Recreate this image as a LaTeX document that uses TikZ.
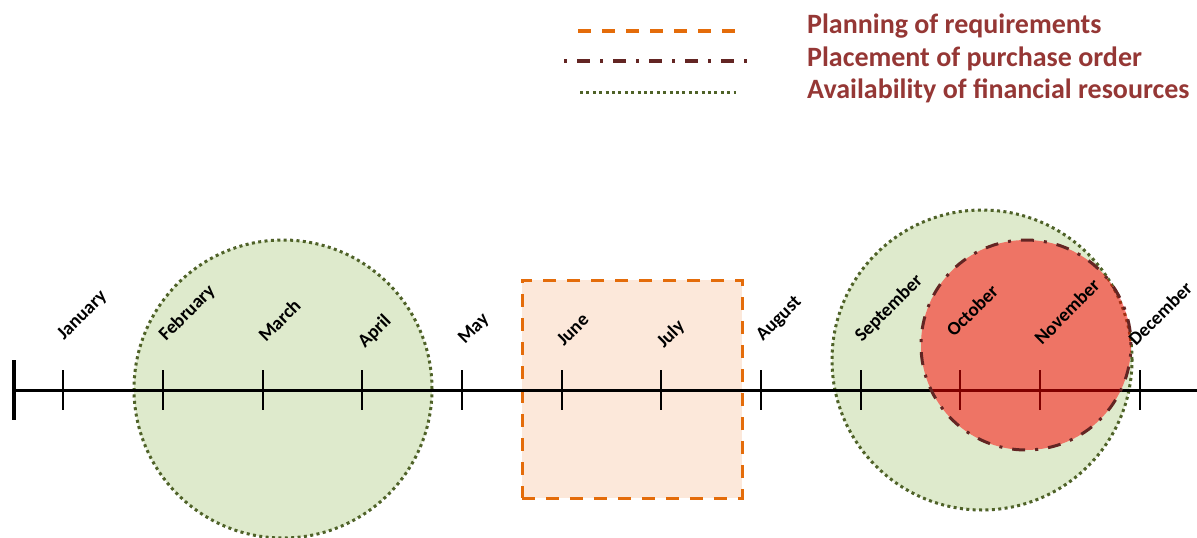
\documentclass[tikz,border=0pt]{standalone}
\usepackage{fontspec}
\setmainfont{Carlito}
\definecolor{legtext}{RGB}{149,55,53}
\definecolor{planorange}{RGB}{228,108,10}
\definecolor{planfill}{RGB}{252,232,218}
\definecolor{availgreen}{RGB}{79,98,40}
\definecolor{availfill}{RGB}{222,234,204}
\definecolor{orderdark}{RGB}{99,37,35}
\definecolor{orderfill}{RGB}{255,0,0}
\tikzset{
  availstyle/.style={draw=availgreen, line width=3pt, dash pattern=on 3pt off 3.4pt},
  availcirc/.style={circle, availstyle, fill=availfill, inner sep=0pt},
  planstyle/.style={draw=planorange, line width=3pt, dash pattern=on 13pt off 11pt},
  planbox/.style={rectangle, planstyle, fill=planfill, inner sep=0pt},
  orderstyle/.style={draw=orderdark, line width=3pt, dash pattern=on 3pt off 10pt on 13pt off 10pt},
  monthlabel/.style={font=\bfseries\fontsize{19}{21}\selectfont, rotate=45, anchor=base west, inner sep=0pt},
  legendlabel/.style={font=\bfseries\fontsize{28}{30}\selectfont, text=legtext, anchor=base west, inner sep=0pt},
  axisline/.style={line width=3pt, black},
  tickline/.style={line width=2pt, black},
}
\begin{document}
\begin{tikzpicture}[x=1pt,y=-1pt]
\useasboundingbox (0,0) rectangle (1197,538);
\clip (0,0) rectangle (1197,538);
% availability circles
\node[availcirc, minimum size=298pt] (avail1) at (283,389) {};
\node[availcirc, minimum size=300pt] (avail2) at (982,360) {};
% planning box
\node[planbox, minimum width=220pt, minimum height=218pt] (plan) at (632,389) {};
% axis
\coordinate (axstart) at (14,390);
\coordinate (axend) at (1197,390);
\coordinate (bartop) at (14,360);
\coordinate (barbot) at (14,420);
\draw[axisline] (axstart) -- (axend);
\draw[line width=4pt] (bartop) -- (barbot);
\foreach \n/\x in {1/63,2/163,3/263,4/362,5/462,6/562,7/661,8/761,9/861,10/960,11/1040,12/1140}{
  \coordinate (t\n a) at (\x,370);
  \coordinate (t\n b) at (\x,410);
  \draw[tickline] (t\n a) -- (t\n b);
}
% purchase order circle
\node[circle, inner sep=0pt, minimum size=210pt, fill=orderfill, fill opacity=0.5] (order) at (1026,345) {};
\draw[orderstyle] (order.center) circle[radius=105pt];
% month labels
\node[monthlabel] (mJan) at (64,341) {January};
\node[monthlabel] (mFeb) at (166,342) {February};
\node[monthlabel] (mMar) at (266,343) {March};
\node[monthlabel] (mApr) at (365,349) {April};
\node[monthlabel] (mMay) at (465,345) {May};
\node[monthlabel] (mJun) at (564,347) {June};
\node[monthlabel] (mJul) at (664,349) {July};
\node[monthlabel] (mAug) at (763,342) {August};
\node[monthlabel] (mSep) at (862,343) {September};
\node[monthlabel] (mOct) at (954,338) {October};
\node[monthlabel] (mNov) at (1042,346) {November};
\node[monthlabel] (mDec) at (1136,347) {December};
% legend
\coordinate (lg1a) at (578,31);
\coordinate (lg1b) at (741,31);
\coordinate (lg2a) at (564,61);
\coordinate (lg2b) at (747,61);
\coordinate (lg3a) at (580,92);
\coordinate (lg3b) at (736,92);
\draw[planstyle, line width=3.8pt] (lg1a) -- (lg1b);
\draw[orderstyle, line width=3.8pt] (lg2a) -- (lg2b);
\draw[availstyle] (lg3a) -- (lg3b);
\node[legendlabel] (leg1) at (807,33) {Planning of requirements};
\node[legendlabel] (leg2) at (807,66) {Placement of purchase order};
\node[legendlabel] (leg3) at (807,98) {Availability of financial resources};
\end{tikzpicture}
\end{document}
